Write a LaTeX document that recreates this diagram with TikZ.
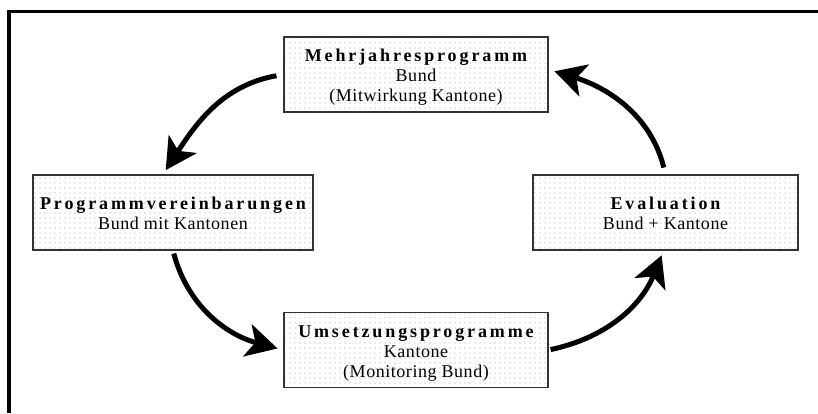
\documentclass[tikz,border=0pt]{standalone}
\usepackage{fontspec}
\setmainfont{Liberation Serif}
\newfontfamily\titlefont{Liberation Serif}[LetterSpace=16]
\newfontfamily\subfont{Liberation Serif}[LetterSpace=3]
\usetikzlibrary{arrows.meta,patterns.meta,positioning}
\newcommand{\stagehead}[2][14pt]{\rule{0pt}{#1}{\titlefont\bfseries #2}}

\begin{document}
\begin{tikzpicture}[x=1pt,y=1pt,
    stage/.style={draw=black!80, line width=1.3pt, pattern={Dots[distance=5pt,radius=0.55pt]},
      pattern color=black!35, minimum width=264pt, minimum height=75pt, inner sep=0pt,
      align=center, font=\fontsize{18}{20}\subfont},
    flow/.style={line width=5pt, -{Stealth[length=31pt,width=33pt,inset=8pt]}}]
        \useasboundingbox (0,0) rectangle (818,-413);
        \draw[line width=3.3pt] (9,-413) -- (9,-11.7) -- (818,-11.7);

        \node[stage] (mehr) at (416,-74.5) {\stagehead[18pt]{Mehrjahresprogramm}\\ Bund\\ (Mitwirkung Kantone)};
        \node[stage, minimum width=280pt] (prog) at (173,-212.5) {\stagehead{Programmvereinbarungen}\\ Bund mit Kantonen};
        \node[stage, minimum width=265pt] (eval) at (665.5,-212.5) {\stagehead{Evaluation}\\ Bund + Kantone};
        \node[stage] (umset) at (416,-350) {\stagehead[19pt]{Umsetzungsprogramme}\\ Kantone\\ (Monitoring Bund)};

        \path (mehr.west) edge[flow, out=190, in=57, shorten <=7pt, shorten >=5pt] ([xshift=-10pt]prog.north)
        (prog.south) edge[flow, out=-75, in=165, shorten <=3pt, shorten >=6pt] (umset.west)
        (umset.east) edge[flow, out=12, in=248, shorten <=2pt, shorten >=5pt] ([xshift=-2pt]eval.south)
        (eval.north) edge[flow, out=104, in=-17, shorten <=7pt, shorten >=6pt] ([yshift=5pt]mehr.east);
      \end{tikzpicture}
\end{document}
